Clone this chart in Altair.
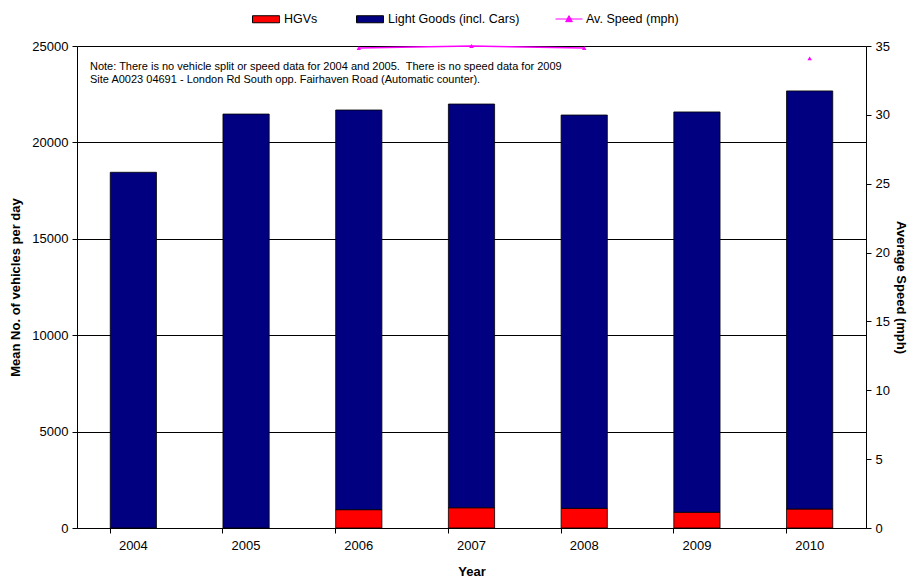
import altair as alt
import pandas as pd

# Mean daily vehicle counts and average speed, 2004-2010
years = ["2004", "2005", "2006", "2007", "2008", "2009", "2010"]
hgvs = [None, None, 950, 1050, 1020, 815, 985]
light_goods = [18450, 21470, 20730, 20940, 20400, 20765, 21685]
av_speed = [None, None, 34.85, 35.0, 34.85, None, 34.1]

series_names = ["HGVs", "Light Goods (incl. Cars)"]
series_colors = ["#ff0000", "#000080"]
speed_name = "Av. Speed (mph)"

note_lines = [
    "Note: There is no vehicle split or speed data for 2004 and 2005.\u00a0 There is no speed data for 2009",
    "Site A0023 04691 - London Rd South opp. Fairhaven Road (Automatic counter).",
]

FONT = "Liberation Sans"

rows = []
for y, h, l in zip(years, hgvs, light_goods):
    if h is not None:
        rows.append({"Year": y, "Type": series_names[0], "Vehicles": h})
    rows.append({"Year": y, "Type": series_names[1], "Vehicles": l})
bars_df = pd.DataFrame(rows)

speed_df = pd.DataFrame({"Year": years, "Speed": av_speed, "Series": speed_name})

x_enc = alt.X(
    "Year:N",
    sort=years,
    scale=alt.Scale(paddingInner=0.59, paddingOuter=0.295),
    axis=alt.Axis(
        title="Year",
        labelAngle=0,
        bandPosition=0,
        tickSize=5,
        tickColor="black",
        domainColor="black",
        labelFontSize=13,
        labelPadding=6,
        titleFontSize=13,
        titleFontWeight="bold",
        titlePadding=13,
        grid=False,
    ),
)

bars = alt.Chart(bars_df).mark_bar(stroke="black", strokeWidth=0.8).encode(
    x=x_enc,
    y=alt.Y(
        "sum(Vehicles):Q",
        stack="zero",
        scale=alt.Scale(domain=[0, 25000], nice=False),
        axis=alt.Axis(
            title="Mean No. of vehicles per day",
            values=[0, 5000, 10000, 15000, 20000, 25000],
            format="d",
            grid=True,
            gridColor="black",
            gridOpacity=1,
            gridWidth=1,
            tickSize=5,
            tickColor="black",
            domainColor="black",
            labelFontSize=13,
            labelPadding=4,
            titleFontSize=13,
            titleFontWeight="bold",
            titlePadding=9,
        ),
    ),
    fill=alt.Fill(
        "Type:N",
        scale=alt.Scale(domain=series_names, range=series_colors),
        legend=alt.Legend(
            title=None,
            orient="none",
            legendX=175,
            legendY=-41,
            direction="horizontal",
            symbolType="M-1,-0.26H1V0.26H-1Z",
            symbolSize=729,
            symbolStrokeColor="black",
            symbolStrokeWidth=1,
            labelFontSize=12.5,
            labelOffset=4,
            columnPadding=36,
        ),
    ),
    order=alt.Order("Type:N", sort="ascending"),
)

speed_y = alt.Y(
    "Speed:Q",
    scale=alt.Scale(domain=[0, 35], nice=False),
    axis=alt.Axis(
        title="Average Speed (mph)",
        orient="right",
        values=[0, 5, 10, 15, 20, 25, 30, 35],
        grid=False,
        tickSize=5,
        tickColor="black",
        domainColor="black",
        labelFontSize=13,
        labelPadding=4,
        titleFontSize=13,
        titleFontWeight="bold",
        titlePadding=4,
    ),
)

speed_line = alt.Chart(speed_df).mark_line(
    color="#ff00ff", strokeWidth=1.5, invalid="break-paths-show-domains"
).encode(
    x=alt.X("Year:N", sort=years),
    y=speed_y,
    stroke=alt.Stroke(
        "Series:N",
        scale=alt.Scale(domain=[speed_name], range=["#ff00ff"]),
        legend=alt.Legend(
            title=None,
            orient="none",
            legendX=478,
            legendY=-41,
            symbolType="M-1,0H1M-0.25,0.2L0,-0.25L0.25,0.2Z",
            symbolSize=729,
            symbolFillColor="#ff00ff",
            symbolStrokeColor="#ff00ff",
            symbolStrokeWidth=1,
            labelFontSize=12.5,
            labelOffset=3,
        ),
    ),
)

speed_points = alt.Chart(speed_df).mark_point(
    shape="triangle-up", filled=True, color="#ff00ff", size=20, opacity=1
).encode(
    x=alt.X("Year:N", sort=years),
    y=alt.Y("Speed:Q"),
)

note_df = pd.DataFrame({"line": note_lines, "idx": list(range(len(note_lines)))})
note = alt.Chart(note_df).mark_text(
    align="left", baseline="middle", fontSize=11, font=FONT, color="black"
).encode(
    x=alt.value(13),
    y=alt.Y(
        "idx:O",
        axis=None,
        scale=alt.Scale(type="point", range=[21, 34], padding=0),
    ),
    text="line:N",
)

speed_layer = alt.layer(speed_line, speed_points)

chart = (
    alt.layer(bars, note, speed_layer)
    .resolve_scale(y="independent", fill="independent", stroke="independent")
    .properties(
        width=789,
        height=482,
        padding={"left": 77, "top": 46, "right": 44, "bottom": 51},
        autosize=alt.AutoSizeParams(type="none"),
        background="white",
    )
    .configure_view(stroke="black", strokeWidth=1)
    .configure(font=FONT)
    .configure_axis(labelColor="black", titleColor="black", domainWidth=1)
    .configure_legend(labelColor="black")
)

chart.save("out.html", embed_options={"renderer": "svg", "actions": False})
